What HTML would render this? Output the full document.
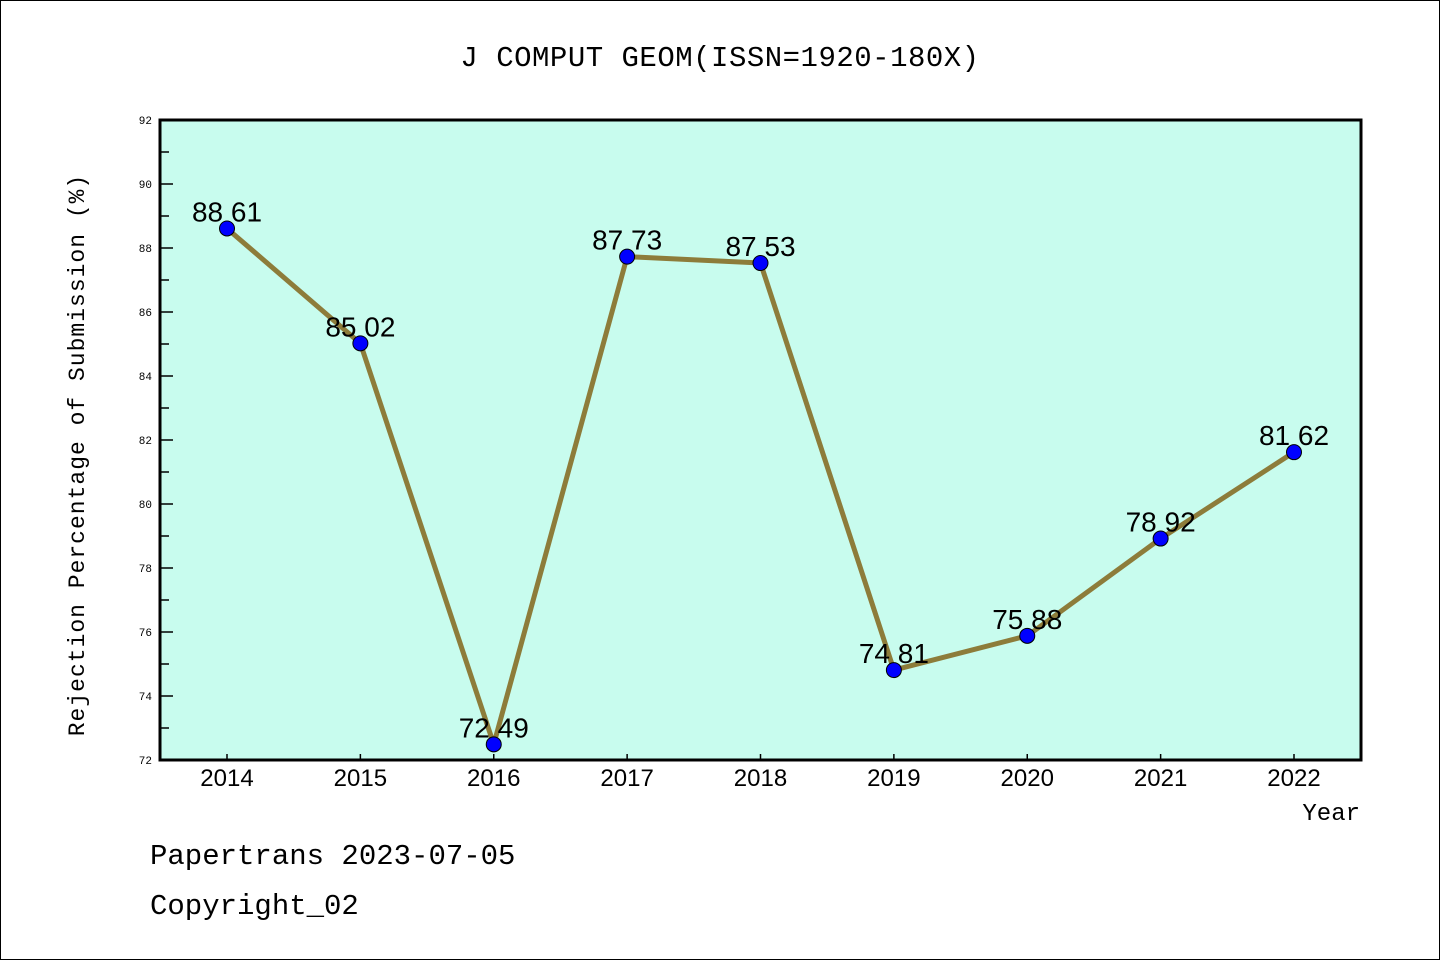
<!DOCTYPE html>
<html><head><meta charset="utf-8"><style>
html,body{margin:0;padding:0;background:#fff}
svg{display:block;font-family:"Liberation Sans","DejaVu Sans",sans-serif}
</style></head><body>
<svg id="chart" width="1440" height="960" viewBox="0 0 1440 960" xmlns="http://www.w3.org/2000/svg">
<rect x="0.5" y="0.5" width="1439" height="959" fill="#fff" stroke="#000" stroke-width="1"/>
<text x="720" y="66" text-anchor="middle" font-size="29" font-family="Liberation Mono, monospace" letter-spacing="0.5">J COMPUT GEOM(ISSN=1920-180X)</text>
<rect x="160" y="120" width="1201" height="640" fill="#c8fcee"/>
<g id="axes"></g>
<g id="marks"></g>
<rect x="160" y="120" width="1201" height="640" fill="none" stroke="#000" stroke-width="3"/>
<text transform="translate(84,455) rotate(-90)" text-anchor="middle" font-size="23" font-family="Liberation Mono, monospace" letter-spacing="1">Rejection Percentage of Submission (%)</text>
<text x="1360" y="820" text-anchor="end" font-size="24" font-family="Liberation Mono, monospace">Year</text>
<text x="150" y="864" font-size="29" font-family="Liberation Mono, monospace">Papertrans 2023-07-05</text>
<text x="150" y="914" font-size="29" font-family="Liberation Mono, monospace">Copyright_02</text>
</svg>
<script>
const years = [2014,2015,2016,2017,2018,2019,2020,2021,2022];
const rates = [88.61,85.02,72.49,87.73,87.53,74.81,75.88,78.92,81.62];
const yTicks = [72,74,76,78,80,82,84,86,88,90,92];
const NS="http://www.w3.org/2000/svg";
const X0=227, XSTEP=(1294-227)/8, Y0=760, YMIN=72, YMAX=92, PH=640;
function xs(i){return X0+i*XSTEP;}
function ys(v){return Y0-(v-YMIN)/(YMAX-YMIN)*PH;}
function mk(tag,attrs,parent){const e=document.createElementNS(NS,tag);for(const k in attrs)e.setAttribute(k,attrs[k]);parent.appendChild(e);return e;}
const axes=document.getElementById('axes'), marks=document.getElementById('marks');
yTicks.forEach(v=>{
  const y=ys(v);
  const t=mk('line',{x1:160,x2:173,y1:y,y2:y,stroke:'#000','stroke-width':1.5},axes);
  
  
  const l=mk('text',{x:152,y:y+4,'text-anchor':'end','font-size':11,'font-family':'Liberation Mono, monospace'},axes);
  l.textContent=v;
  
  
  if(v<YMAX){
    const m=mk('line',{x1:160,x2:169,y1:ys(v+1),y2:ys(v+1),stroke:'#000','stroke-width':1.5},axes);
    
    
  }
});
years.forEach((yr,i)=>{
  const x=xs(i);
  const t=mk('line',{x1:x,x2:x,y1:760,y2:754,stroke:'#000','stroke-width':1.5},axes);
  
  
  const l=mk('text',{x:x,y:786,'text-anchor':'middle','font-size':24},axes);
  l.textContent=yr;
  
  
});
const pts=rates.map((v,i)=>xs(i)+','+ys(v)).join(' ');
const line=mk('polyline',{points:pts,fill:'none',stroke:'#8d7c3a','stroke-width':5,'stroke-linejoin':'round'},marks);


rates.forEach((v,i)=>{
  const c=mk('circle',{cx:xs(i),cy:ys(v),r:7.5,fill:'#0000ff',stroke:'#000','stroke-width':1},marks);
  
  
  const l=mk('text',{x:xs(i),y:ys(v)-7,'text-anchor':'middle','font-size':28},marks);
  l.textContent=v.toFixed(2).replace('.',' ');
  
  
});
</script>
</body></html>
